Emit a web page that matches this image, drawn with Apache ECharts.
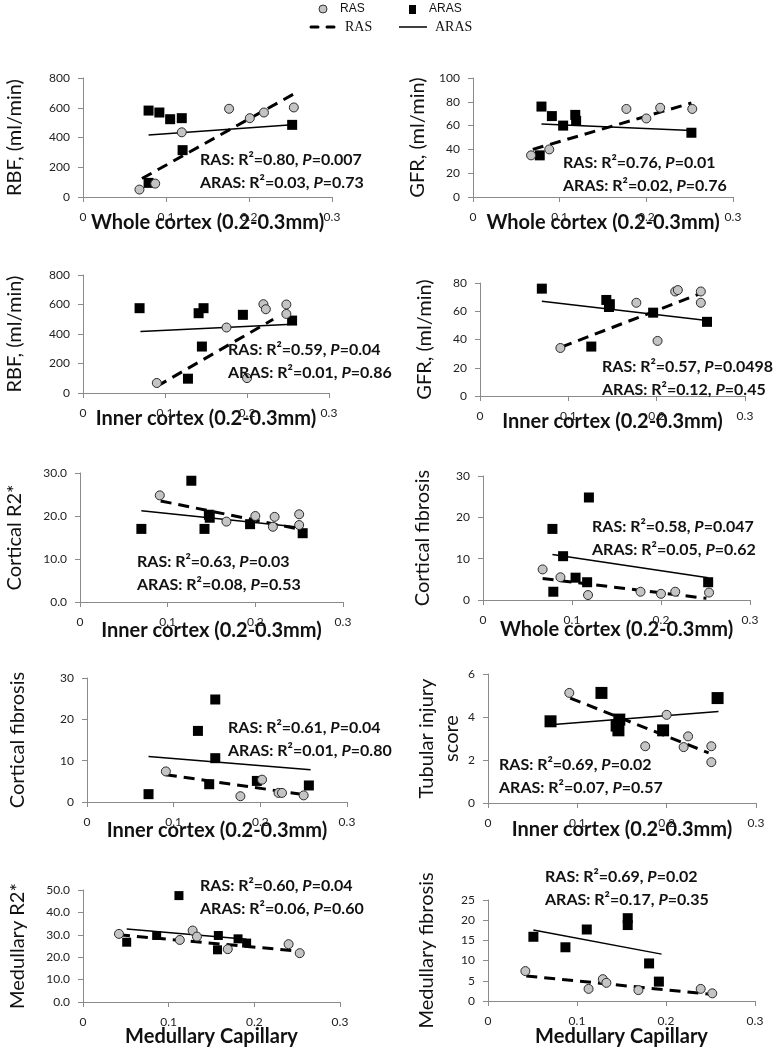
<!DOCTYPE html>
<html><head><meta charset="utf-8">
<script src="https://cdn.jsdelivr.net/npm/echarts@6/dist/echarts.min.js"></script>
<style>html,body{margin:0;padding:0;background:#fff}#c{width:782px;height:1050px}</style>
</head><body><div id="c"></div><script>
// ---------- data (x = capillary measure, y = outcome) ----------
const xTickLabels = ['0', '0.1', '0.2', '0.3'];

const rbfWholeRAS = [[0.068,50],[0.087,90],[0.119,435],[0.176,593],[0.201,530],[0.218,568],[0.254,602]];
const rbfWholeARAS = [[0.079,581],[0.092,568],[0.105,523],[0.119,530],[0.120,315],[0.079,95],[0.252,485]];
const rbfWholeRASFit = [[0.071,124],[0.256,699]];
const rbfWholeARASFit = [[0.079,417],[0.252,485]];

const gfrWholeRAS = [[0.067,35],[0.088,40],[0.177,74],[0.200,66],[0.216,75],[0.253,74]];
const gfrWholeARAS = [[0.079,76],[0.091,68],[0.104,60],[0.118,69],[0.119,64],[0.077,35],[0.252,54]];
const gfrWholeRASFit = [[0.069,40],[0.252,79]];
const gfrWholeARASFit = [[0.079,61.4],[0.252,55.8]];

const rbfInnerRAS = [[0.090,68],[0.175,444],[0.220,602],[0.223,568],[0.248,600],[0.248,536],[0.200,101]];
const rbfInnerARAS = [[0.069,575],[0.141,541],[0.147,575],[0.145,315],[0.195,530],[0.128,97],[0.255,491]];
const rbfInnerRASFit = [[0.090,45],[0.232,500]];
const rbfInnerARASFit = [[0.070,417],[0.255,466]];

const gfrInnerRAS = [[0.091,34],[0.177,66],[0.201,39],[0.221,74],[0.224,75],[0.250,74],[0.250,66]];
const gfrInnerARAS = [[0.070,76],[0.143,68],[0.147,65],[0.146,63],[0.196,59],[0.126,35],[0.257,52.5]];
const gfrInnerRASFit = [[0.092,34.6],[0.249,72.4]];
const gfrInnerARASFit = [[0.070,67],[0.257,53.5]];

const r2CortRAS = [[0.091,24.8],[0.167,18.7],[0.200,20],[0.220,17.5],[0.222,19.8],[0.250,20.4],[0.250,17.9]];
const r2CortARAS = [[0.070,17],[0.127,28.2],[0.147,20.3],[0.142,17],[0.194,18.1],[0.254,16],[0.148,19.6]];
const r2CortRASFit = [[0.092,23.5],[0.254,16.8]];
const r2CortARASFit = [[0.070,21.2],[0.254,17.3]];

const fibWholeRAS = [[0.067,7.4],[0.087,5.5],[0.118,1.2],[0.177,2],[0.200,1.5],[0.216,2],[0.254,1.8]];
const fibWholeARAS = [[0.119,24.8],[0.078,17.2],[0.090,10.6],[0.104,5.4],[0.117,4.3],[0.079,2],[0.253,4.3]];
const fibWholeRASFit = [[0.067,5.2],[0.251,0.4]];
const fibWholeARASFit = [[0.078,11],[0.253,5.4]];

const fibInnerRAS = [[0.091,7.4],[0.177,1.4],[0.202,5.4],[0.221,2.2],[0.225,2.2],[0.250,1.6]];
const fibInnerARAS = [[0.148,24.8],[0.128,17.2],[0.148,10.6],[0.141,4.3],[0.196,5.1],[0.071,1.9],[0.256,4]];
const fibInnerRASFit = [[0.091,6.6],[0.250,1.8]];
const fibInnerARASFit = [[0.071,11],[0.258,7.8]];

const tubInnerRAS = [[0.091,5.12],[0.176,2.64],[0.200,4.1],[0.219,2.6],[0.224,3.1],[0.250,2.64],[0.250,1.9]];
const tubInnerARAS = [[0.127,5.12],[0.070,3.8],[0.144,3.6],[0.147,3.88],[0.146,3.38],[0.196,3.38],[0.257,4.88]];
const tubInnerRASFit = [[0.092,4.88],[0.247,2.33]];
const tubInnerARASFit = [[0.070,3.64],[0.258,4.26]];

const r2MedRAS = [[0.042,30.4],[0.113,27.7],[0.128,31.9],[0.133,29.2],[0.169,23.6],[0.240,25.8],[0.253,21.8]];
const r2MedARAS = [[0.112,47.5],[0.051,26.7],[0.086,29.7],[0.158,29.7],[0.157,23.3],[0.181,28.2],[0.191,26.3]];
const r2MedRASFit = [[0.042,30],[0.255,22.6]];
const r2MedARASFit = [[0.051,32.6],[0.191,28]];

const fibMedRAS = [[0.042,7.4],[0.113,3],[0.129,5.4],[0.133,4.5],[0.169,2.7],[0.239,3],[0.252,1.9]];
const fibMedARAS = [[0.051,15.9],[0.087,13.3],[0.111,17.7],[0.157,20.5],[0.157,18.8],[0.181,9.3],[0.192,4.8]];
const fibMedRASFit = [[0.043,6.2],[0.249,1.7]];
const fibMedARASFit = [[0.051,17.6],[0.195,11.6]];

const statsRAS = ['0.80|0.007','0.76|0.01','0.59|0.04','0.57|0.0498','0.63|0.03','0.58|0.047','0.61|0.04','0.69|0.02','0.60|0.04','0.69|0.02'];
const statsARAS = ['0.03|0.73','0.02|0.76','0.01|0.86','0.12|0.45','0.08|0.53','0.05|0.62','0.01|0.80','0.07|0.57','0.06|0.60','0.17|0.35'];

// ---------- layout ----------
const panels = [
 {ras:rbfWholeRAS, aras:rbfWholeARAS, rf:rbfWholeRASFit, af:rbfWholeARASFit, g:[83,78,249,119], yMax:800, yInt:200, dec:0, yName:'RBF, (ml/min)', xName:'Whole cortex (0.2-0.3mm)', yGap:56, xGap:16, sq:10, note:[200,160]},
 {ras:gfrWholeRAS, aras:gfrWholeARAS, rf:gfrWholeRASFit, af:gfrWholeARASFit, g:[473,78,260,119], yMax:100, yInt:20, dec:0, yName:'GFR, (ml/min)', xName:'Whole cortex (0.2-0.3mm)', yGap:43, xGap:16, sq:10, note:[563,163]},
 {ras:rbfInnerRAS, aras:rbfInnerARAS, rf:rbfInnerRASFit, af:rbfInnerARASFit, g:[83,275,246,118], yMax:800, yInt:200, dec:0, yName:'RBF, (ml/min)', xName:'Inner cortex (0.2-0.3mm)', yGap:56, xGap:16, sq:10, note:[228,350]},
 {ras:gfrInnerRAS, aras:gfrInnerARAS, rf:gfrInnerRASFit, af:gfrInnerARASFit, g:[480,283,265,113], yMax:80, yInt:20, dec:0, yName:'GFR, (ml/min)', xName:'Inner cortex (0.2-0.3mm)', yGap:43, xGap:16, sq:10, note:[602,367]},
 {ras:r2CortRAS, aras:r2CortARAS, rf:r2CortRASFit, af:r2CortARASFit, g:[80,473,263,129], yMax:30, yInt:10, dec:1, yName:'Cortical R2*', xName:'Inner cortex (0.2-0.3mm)', yGap:53, xGap:19, sq:10, note:[137,562]},
 {ras:fibWholeRAS, aras:fibWholeARAS, rf:fibWholeRASFit, af:fibWholeARASFit, g:[483,476,267,124], yMax:30, yInt:10, dec:0, yName:'Cortical fibrosis', xName:'Whole cortex (0.2-0.3mm)', yGap:48, xGap:20, sq:10, note:[592,527]},
 {ras:fibInnerRAS, aras:fibInnerARAS, rf:fibInnerRASFit, af:fibInnerARASFit, g:[87,678,260,124], yMax:30, yInt:10, dec:0, yName:'Cortical fibrosis', xName:'Inner cortex (0.2-0.3mm)', yGap:57, xGap:19, sq:10, note:[228,728]},
 {ras:tubInnerRAS, aras:tubInnerARAS, rf:tubInnerRASFit, af:tubInnerARASFit, g:[488,674,268,129], yMax:6, yInt:2, dec:0, yName:'Tubular injury\nscore', xName:'Inner cortex (0.2-0.3mm)', yGap:24, xGap:17, sq:12, note:[499,765]},
 {ras:r2MedRAS, aras:r2MedARAS, rf:r2MedRASFit, af:r2MedARASFit, g:[83,890,257,112], yMax:50, yInt:10, dec:1, yName:'Medullary R2*', xName:'Medullary Capillary', yGap:53, xGap:25, sq:9, note:[200,886]},
 {ras:fibMedRAS, aras:fibMedARAS, rf:fibMedRASFit, af:fibMedARASFit, g:[488,900,267,101], yMax:25, yInt:5, dec:0, yName:'Medullary fibrosis', xName:'Medullary Capillary', yGap:49, xGap:26, sq:10, note:[545,877]}
];

const AX = '#8a8a8a';
const grid = [], xAxis = [], yAxis = [], series = [], graphic = [];
const richStyle = {
  b:{fontFamily:'Lato', fontWeight:'bold', fontSize:16, fill:'#111'},
  i:{fontFamily:'Lato', fontWeight:'bold', fontStyle:'italic', fontSize:16, fill:'#111'}
};
panels.forEach((p, i) => {
  grid.push({left:p.g[0], top:p.g[1], width:p.g[2], height:p.g[3]});
  xAxis.push({gridIndex:i, type:'value', min:0, max:0.3, interval:0.1,
    axisLine:{show:true, onZero:false, lineStyle:{color:AX, width:1}},
    axisTick:{show:true, length:5, lineStyle:{color:AX}},
    splitLine:{show:false},
    axisLabel:{margin:14, fontSize:12, color:'#222', fontFamily:'Lato',
      formatter:v => xTickLabels[Math.round(v*10)]},
    name:p.xName, nameLocation:'middle', nameGap:p.xGap, nameMoveOverlap:false,
    nameTextStyle:{fontFamily:'Lato', fontWeight:'bold', fontSize:20, color:'#111'}});
  yAxis.push({gridIndex:i, type:'value', min:0, max:p.yMax, interval:p.yInt,
    axisLine:{show:true, lineStyle:{color:AX, width:1}},
    axisTick:{show:true, length:5, lineStyle:{color:AX}},
    splitLine:{show:false},
    axisLabel:{margin:13, fontSize:12, color:'#222', fontFamily:'Lato', formatter:v => v.toFixed(p.dec)},
    name:p.yName, nameLocation:'middle', nameGap:p.yGap, nameRotate:90, nameMoveOverlap:false,
    nameTextStyle:{fontFamily:'Lato', fontSize:20, color:'#111', lineHeight:25, align:'center'}});
  series.push({type:'line', name:'RAS fit', xAxisIndex:i, yAxisIndex:i, data:p.rf, symbol:'none', silent:true,
    lineStyle:{color:'#000', width:3, type:[11,7]}, z:2});
  series.push({type:'line', name:'ARAS fit', xAxisIndex:i, yAxisIndex:i, data:p.af, symbol:'none', silent:true,
    lineStyle:{color:'#000', width:1.5}, z:2});
  series.push({type:'scatter', name:'ARAS', xAxisIndex:i, yAxisIndex:i, data:p.aras, symbol:'rect', symbolSize:p.sq,
    itemStyle:{color:'#000', opacity:1}, z:3});
  series.push({type:'scatter', name:'RAS', xAxisIndex:i, yAxisIndex:i, data:p.ras, symbol:'circle', symbolSize:9,
    itemStyle:{color:'#c4c4c4', borderColor:'#2a2a2a', borderWidth:1, opacity:1}, z:4});
  const [r2a, pa] = statsRAS[i].split('|');
  const [r2b, pb] = statsARAS[i].split('|');
  graphic.push({type:'text', x:p.note[0], y:p.note[1], z:10,
    style:{text:'{b|RAS: R²=' + r2a + ', }{i|P}{b|=' + pa + '}', rich:richStyle, verticalAlign:'middle'}});
  graphic.push({type:'text', x:p.note[0], y:p.note[1] + 23, z:10,
    style:{text:'{b|ARAS: R²=' + r2b + ', }{i|P}{b|=' + pb + '}', rich:richStyle, verticalAlign:'middle'}});
});

// legend (drawn as graphic)
graphic.push({type:'circle', shape:{cx:323, cy:9, r:4}, style:{fill:'#c4c4c4', stroke:'#333', lineWidth:1}});
graphic.push({type:'text', x:340, y:9, style:{text:'RAS', font:'12px "Liberation Sans"', fill:'#111', verticalAlign:'middle'}});
graphic.push({type:'rect', shape:{x:409, y:5, width:7, height:9}, style:{fill:'#000'}});
graphic.push({type:'text', x:429, y:9, style:{text:'ARAS', font:'12px "Liberation Sans"', fill:'#111', verticalAlign:'middle'}});
graphic.push({type:'line', shape:{x1:311, y1:27, x2:318, y2:27}, style:{stroke:'#000', lineWidth:3, lineCap:'round'}});
graphic.push({type:'line', shape:{x1:327, y1:27, x2:334, y2:27}, style:{stroke:'#000', lineWidth:3, lineCap:'round'}});
graphic.push({type:'text', x:345, y:27, style:{text:'RAS', font:'14px "Liberation Serif"', fill:'#111', verticalAlign:'middle'}});
graphic.push({type:'line', shape:{x1:399, y1:27, x2:427, y2:27}, style:{stroke:'#000', lineWidth:1.5}});
graphic.push({type:'text', x:435, y:27, style:{text:'ARAS', font:'14px "Liberation Serif"', fill:'#111', verticalAlign:'middle'}});

const chart = echarts.init(document.getElementById('c'), null, {renderer:'canvas'});
chart.setOption({animation:false, backgroundColor:'#fff', grid, xAxis, yAxis, series, graphic});
</script></body></html>
